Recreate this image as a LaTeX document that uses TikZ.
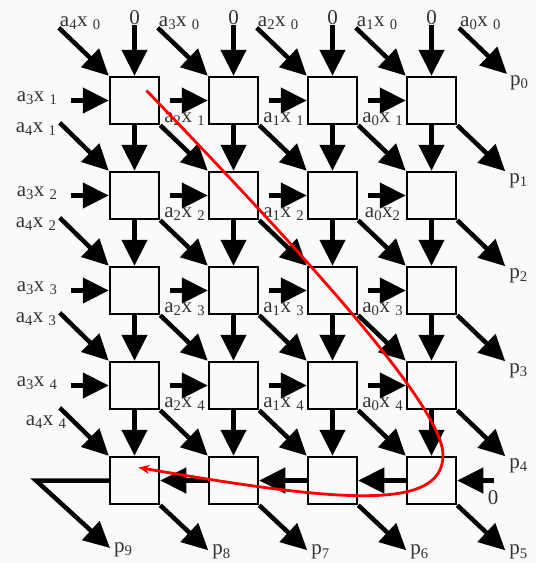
\documentclass[tikz,border=0pt]{standalone}
\usepackage{fontspec}
\setmainfont{Liberation Serif}
\usetikzlibrary{arrows.meta,calc}

% coefficient times input sample, e.g. a_4 x_0
\newcommand{\coef}[2]{a\textsubscript{#1}x\ \textsubscript{#2}}
\newcommand{\coeftight}[2]{a\textsubscript{#1}x\textsubscript{#2}}

\begin{document}
\begin{tikzpicture}[x=1pt, y=-1pt,
  cell/.style={draw, line width=2.5pt, minimum width=49pt, minimum height=47pt, inner sep=0pt},
  flow/.style={line width=4.5pt, -{Triangle[length=26pt, width=25pt]}},
  lbl/.style={font=\fontsize{21}{21}\selectfont, text=black!80, inner sep=0pt},
  route/.style={red, line width=2.8pt, -{Stealth[length=11pt, width=9pt]}}]

  % Background and page size
  \path[fill=black!2] (0,0) rectangle (536,563);

  % Grid of cells
  \foreach \r in {1,...,5}
    \foreach \c in {1,...,4}
      \node[cell] (c\r\c) at ({134.5+99*(\c-1)}, {100.5+95*(\r-1)}) {};

  % Top row: zero inputs and first samples
  \foreach \c/\k in {1/4,2/3,3/2,4/1} {
    \node[lbl] (z\c) at ({134.5+99*(\c-1)}, 18) {0};
    \draw[flow] (z\c) -- (c1\c);
    \coordinate (t\c) at ($(c1\c.north west)+(-50,-48)$);
    \node[lbl, anchor=south west] at ($(t\c)+(1,2)$) {\coef{\k}{0}};
    \draw[flow] (t\c) -- (c1\c.north west);
  }
  \coordinate (t5) at (459,28);
  \coordinate (o0) at (507,74);
  \node[lbl, anchor=south west] at ($(t5)+(1,2)$) {\coef{0}{0}};
  \draw[flow] (t5) -- (o0);
  \node[lbl, anchor=north west] at ($(o0)+(3,1)$) {p\textsubscript{0}};

  % Left column: a_4 x_i feeding the next row
  \foreach \r/\dx/\dy [evaluate=\r as \i using int(\r-1)] in {2/-3/0,3/-3/0,4/-3/0,5/7/8} {
    \coordinate (l\r) at ($(c\r1.north west)+(-49,-48)$);
    \node[lbl, anchor=north east] at ($(l\r)+(\dx,\dy)$) {\coef{4}{\i}};
    \draw[flow] (l\r) -- (c\r1.north west);
  }

  % Vertical and diagonal links between rows
  \foreach \r [evaluate=\r as \i using int(\r-1)] in {2,...,5} {
    \foreach \c in {1,...,4}
      \draw[flow] (c\i\c) -- (c\r\c);
    \foreach \c [evaluate=\c as \j using int(\c-1)] in {2,3,4}
      \draw[flow] (c\i\j.south east) -- (c\r\c.north west);
  }

  % Horizontal inputs a_k x_i, rows 1 to 4
  \foreach \r in {1,...,4} {
    \foreach \c/\k in {1/3,2/2,3/1,4/0} {
      \coordinate (h\r\c) at ($(c\r\c.west)+(-38,0)$);
      \draw[flow] (h\r\c) -- (c\r\c.west);
    }
    \node[lbl, anchor=east] at ($(h\r1)+(-13,-2)$) {\coef{3}{\r}};
    \foreach \c/\k in {2/2,3/1,4/0}
      \node[lbl] at ($(h\r\c)+(15,19)$)
        {\ifnum\r\c=24 \coeftight{\k}{\r}\else\coef{\k}{\r}\fi};
  }

  % Outputs on the right
  \foreach \r in {1,...,4} {
    \coordinate (o\r) at ($(c\r4.south east)+(48,46)$);
    \draw[flow] (c\r4.south east) -- (o\r);
    \node[lbl, anchor=north west] at ($(o\r)+(4,2)$) {p\textsubscript{\r}};
  }

  % Bottom row runs right to left
  \node[lbl] (z5) at (493,498) {0};
  \coordinate (h5) at (494,480.5);
  \draw[flow] (h5) -- (c54.east);
  \foreach \c/\j in {4/3,3/2,2/1}
    \draw[flow] (c5\c.west) -- (c5\j.east);

  % Outputs along the bottom
  \foreach \c/\p in {4/5,3/6,2/7,1/8} {
    \coordinate (o\p) at ($(c5\c.south east)+(48,45)$);
    \draw[flow] (c5\c.south east) -- (o\p);
    \node[lbl, anchor=west] at ($(o\p)+(4,2)$) {p\textsubscript{\p}};
  }
  \coordinate (bend) at (36,480.5);
  \coordinate (o9) at (110,548);
  \draw[flow] (c51.west) -- (bend) -- (o9);
  \node[lbl, anchor=west] at ($(o9)+(4,2)$) {p\textsubscript{9}};

  % Data path through the array
  \coordinate (s) at ($(c11.center)+(12,-10)$);
  \coordinate (e) at ($(c51.center)+(4,-13)$);
  \draw[route] (s) .. controls (296,246) and (443,405) .. (443,455)
               .. controls (443,512) and (338,502) .. (e);
\end{tikzpicture}
\end{document}
